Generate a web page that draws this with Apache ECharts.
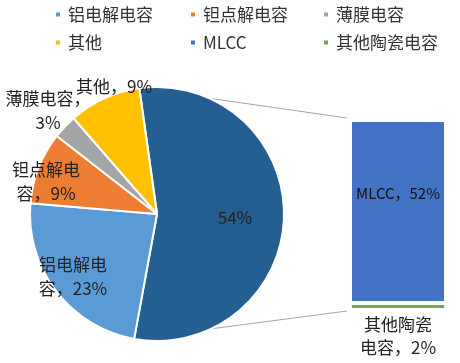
<!DOCTYPE html>
<html><head><meta charset="utf-8">
<script src="https://cdn.jsdelivr.net/npm/echarts/dist/echarts.min.js"></script>
<style>html,body{margin:0;padding:0;background:#fff}#c{width:460px;height:363px}</style>
</head><body><div id="c"></div>
<script>
// ---- data ----
const pieNames = ['MLCC等陶瓷电容', '铝电解电容', '钽点解电容', '薄膜电容', '其他'];
const pieValues = [54, 23, 9, 3, 9];
const barCategories = ['陶瓷电容'];
const barNames = ['其他陶瓷电容', 'MLCC'];
const barValues = [2, 52];

// ---- styles ----
const pieColors = ['#255e91', '#5b9bd5', '#ed7d31', '#a5a5a5', '#ffc000'];
const barColors = ['#70ad47', '#4472c4'];
const FONT = '"Noto Sans CJK SC", "Noto Sans", sans-serif';
const pieCenter = [157, 214], pieRadius = 127, pieStart = 98;
const gridBox = {left: 350, top: 120, width: 96, height: 190};
const labelPos = [[235, 218], [73, 277], [46, 182], [48, 111], [114, 87]];
const wrapAt = {'铝电解电容': 4, '钽点解电容': 4, '薄膜电容': 5};

const chart = echarts.init(document.getElementById('c'), null, {renderer: 'canvas'});
const sum = pieValues.reduce((a, b) => a + b, 0);

function pieLabel(p) {
  if (p.dataIndex === 0) return p.value + '%';
  let s = p.name + '，' + p.value + '%';
  const w = wrapAt[p.name];
  if (w) s = s.slice(0, w) + '\n' + s.slice(w);
  return s;
}

const legendCommon = {
  orient: 'vertical', top: 6, padding: 0, itemGap: 11,
  itemWidth: 6, itemHeight: 6, icon: 'rect', selectedMode: false,
  textStyle: {fontFamily: FONT, fontSize: 17, color: '#333', padding: [0, 0, 0, 2]}
};

chart.setOption({
  animation: false,
  backgroundColor: '#fff',
  legend: [
    Object.assign({left: 54, data: ['铝电解电容', '其他']}, legendCommon),
    Object.assign({left: 189, data: ['钽点解电容', 'MLCC']}, legendCommon),
    Object.assign({left: 322, data: ['薄膜电容', '其他陶瓷电容']}, legendCommon)
  ],
  grid: gridBox,
  xAxis: {type: 'category', data: barCategories, show: false},
  yAxis: {type: 'value', min: 0, max: pieValues[0], show: false},
  series: [
    {
      type: 'pie', center: pieCenter, radius: pieRadius, startAngle: pieStart,
      clockwise: true, avoidLabelOverlap: false,
      itemStyle: {borderColor: '#fff', borderWidth: 2},
      emphasis: {disabled: true},
      label: {show: true, position: 'inside', formatter: pieLabel,
        fontFamily: FONT, fontSize: 17, lineHeight: 24, color: '#222', align: 'center'},
      labelLine: {show: false},
      labelLayout: function (p) {
        const pos = labelPos[p.dataIndex];
        return {x: pos[0], y: pos[1], align: 'center', verticalAlign: 'middle'};
      },
      data: pieNames.map((n, i) => ({name: n, value: pieValues[i], itemStyle: {color: pieColors[i]}}))
    },
    {
      type: 'bar', name: barNames[0], stack: 'b', barWidth: '100%',
      data: [barValues[0]],
      itemStyle: {color: barColors[0], borderColor: '#fff', borderWidth: 2},
      emphasis: {disabled: true},
      label: {show: true, position: 'bottom', distance: 3,
        formatter: '其他陶瓷\n电容，' + barValues[0] + '%',
        fontFamily: FONT, fontSize: 17, lineHeight: 23, color: '#222', align: 'center'}
    },
    {
      type: 'bar', name: barNames[1], stack: 'b', barWidth: '100%',
      data: [barValues[1]],
      itemStyle: {color: barColors[1], borderColor: '#fff', borderWidth: 2},
      emphasis: {disabled: true},
      label: {show: true, position: 'inside', offset: [0, -18],
        formatter: p => p.seriesName + '，' + p.value + '%',
        fontFamily: FONT, fontSize: 15, color: '#111'}
    }
  ]
});

// connector lines from the pie's aggregated slice to the bar
const a0 = pieStart * Math.PI / 180;
const a1 = (pieStart - pieValues[0] / sum * 360) * Math.PI / 180;
const p0 = [pieCenter[0] + pieRadius * Math.cos(a0), pieCenter[1] - pieRadius * Math.sin(a0)];
const p1 = [pieCenter[0] + pieRadius * Math.cos(a1), pieCenter[1] - pieRadius * Math.sin(a1)];
const topPt = chart.convertToPixel({xAxisIndex: 0, yAxisIndex: 0}, [0, barValues[0] + barValues[1]]);
const botPt = chart.convertToPixel({xAxisIndex: 0, yAxisIndex: 0}, [0, 0]);
const leftX = topPt[0] - gridBox.width / 2 - 3;
chart.setOption({
  graphic: [
    {type: 'line', silent: true, z: -1, shape: {x1: p0[0], y1: p0[1], x2: leftX, y2: topPt[1] - 2},
      style: {stroke: '#a6a6a6', lineWidth: 1}},
    {type: 'line', silent: true, z: -1, shape: {x1: p1[0], y1: p1[1], x2: leftX, y2: botPt[1] + 1},
      style: {stroke: '#a6a6a6', lineWidth: 1}}
  ]
});
</script>
</body></html>
